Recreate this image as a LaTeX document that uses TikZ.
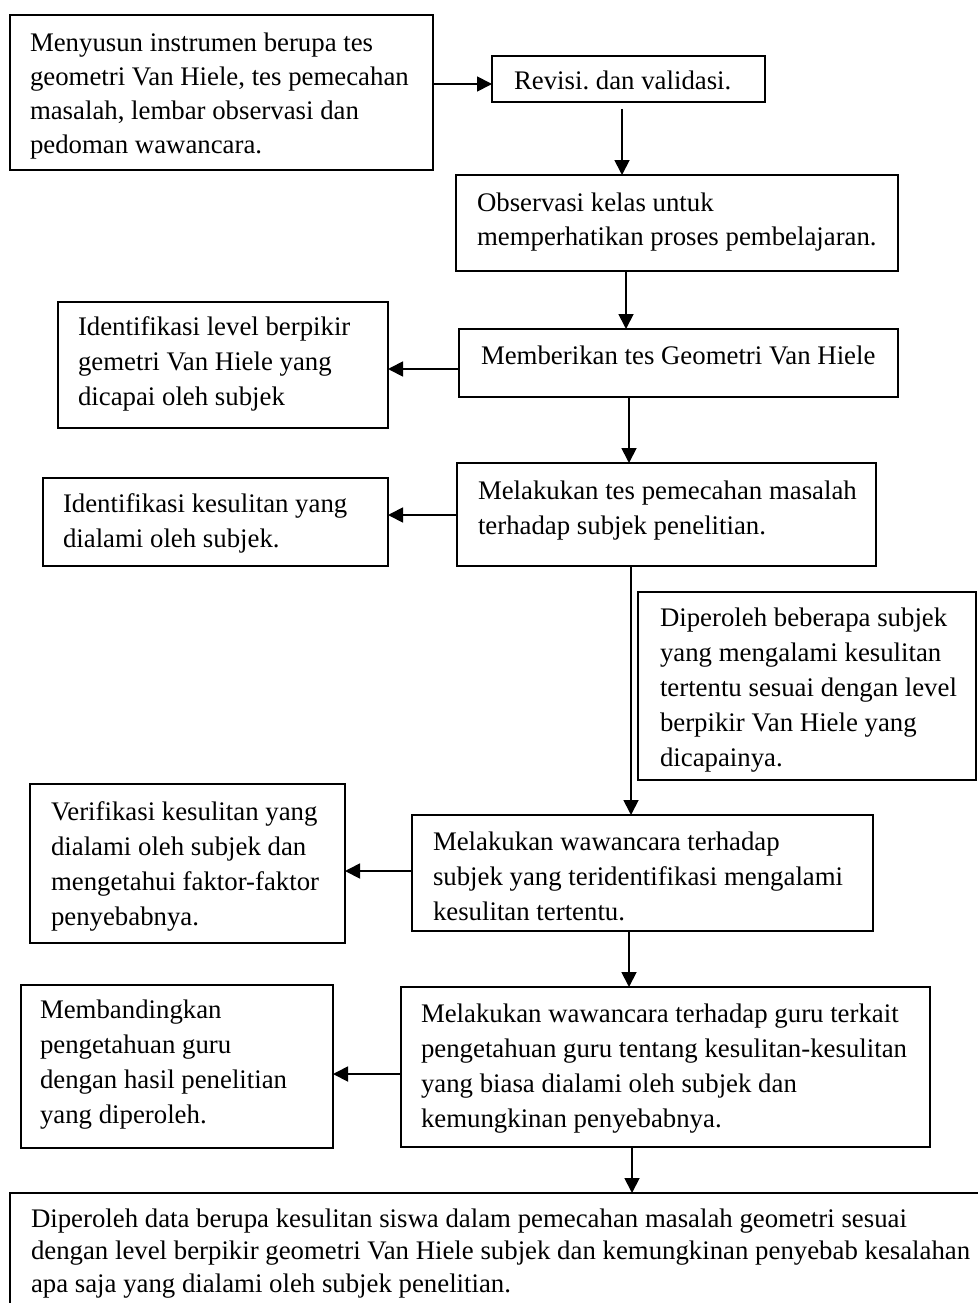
\documentclass[tikz,border=0pt]{standalone}
\usepackage{fontspec}
\setmainfont{Liberation Serif}
\usetikzlibrary{arrows.meta}
\frenchspacing
\newcommand{\boxlines}[2]{{\fontsize{26.8pt}{#1pt}\selectfont\begin{tabular}[t]{@{}l@{}}#2\end{tabular}}}
\begin{document}
\begin{tikzpicture}[x=1pt,y=-1pt,
  box/.style={draw, line width=1.8pt, anchor=north west, inner sep=0pt, outer sep=0pt},
  txt/.style={anchor=base west, inner sep=0pt, outer sep=0pt},
  arr/.style={line width=1.8pt, -{Triangle[length=15pt,width=15pt]}}]
\useasboundingbox (0,0) rectangle (977,1303);
\fill[white] (0,0) rectangle (977,1303);

% boxes
\node[box, minimum width=423pt, minimum height=155pt] (b1) at (10,15) {};
\node[box, minimum width=273pt, minimum height=46pt] (b2) at (492,56) {};
\node[box, minimum width=442pt, minimum height=96pt] (b3) at (456,175) {};
\node[box, minimum width=439pt, minimum height=68pt] (b4) at (459,329) {};
\node[box, minimum width=330pt, minimum height=126pt] (b5) at (58,302) {};
\node[box, minimum width=419pt, minimum height=103pt] (b6) at (457,463) {};
\node[box, minimum width=345pt, minimum height=88pt] (b7) at (43,478) {};
\node[box, minimum width=338pt, minimum height=188pt] (b8) at (638,592) {};
\node[box, minimum width=315pt, minimum height=159pt] (b9) at (30,784) {};
\node[box, minimum width=461pt, minimum height=116pt] (b10) at (412,815) {};
\node[box, minimum width=312pt, minimum height=163pt] (b11) at (21,985) {};
\node[box, minimum width=529pt, minimum height=160pt] (b12) at (401,987) {};
\node[box, minimum width=1000pt, minimum height=150pt] (b13) at (10,1193) {};

% texts
\node[txt] (t1) at (30,52) {\boxlines{33.7}{Menyusun instrumen berupa tes\\geometri Van Hiele, tes pemecahan\\masalah, lembar observasi dan\\pedoman wawancara.}};
\node[txt] (t2) at (514,90) {\boxlines{34}{Revisi. dan validasi.}};
\node[txt] (t3) at (477,211) {\boxlines{34}{Observasi kelas untuk\\memperhatikan proses pembelajaran.}};
\node[txt] (t4) at (481,364) {\boxlines{34}{Memberikan tes Geometri Van Hiele}};
\node[txt] (t5) at (78,335) {\boxlines{35}{Identifikasi level berpikir\\gemetri Van Hiele yang\\dicapai oleh subjek}};
\node[txt] (t6) at (478,499) {\boxlines{35}{Melakukan tes pemecahan masalah\\terhadap subjek penelitian.}};
\node[txt] (t7) at (63,512) {\boxlines{35}{Identifikasi kesulitan yang\\dialami oleh subjek.}};
\node[txt] (t8) at (660,626) {\boxlines{35}{Diperoleh beberapa subjek\\yang mengalami kesulitan\\tertentu sesuai dengan level\\berpikir Van Hiele yang\\dicapainya.}};
\node[txt] (t9) at (51,820) {\boxlines{35}{Verifikasi kesulitan yang\\dialami oleh subjek dan\\mengetahui faktor-faktor\\penyebabnya.}};
\node[txt] (t10) at (433,850) {\boxlines{35}{Melakukan wawancara terhadap\\subjek yang teridentifikasi mengalami\\kesulitan tertentu.}};
\node[txt] (t11) at (40,1018) {\boxlines{35}{Membandingkan\\pengetahuan guru\\dengan hasil penelitian\\yang diperoleh.}};
\node[txt] (t12) at (421,1022) {\boxlines{35}{Melakukan wawancara terhadap guru terkait\\pengetahuan guru tentang kesulitan-kesulitan\\yang biasa dialami oleh subjek dan\\kemungkinan penyebabnya.}};
\node[txt] (t13) at (31,1227) {\boxlines{32.5}{Diperoleh data berupa kesulitan siswa dalam pemecahan masalah geometri sesuai\\dengan level berpikir geometri Van Hiele subjek dan kemungkinan penyebab kesalahan\\apa saja yang dialami oleh subjek penelitian.}};

% connectors
\coordinate (a2s) at (622,109);
\draw[arr] (b1.east |- 0,84) -- (b2.west |- 0,84);
\draw[arr] (a2s) -- (a2s |- b3.north);
\draw[arr] (b3.south -| 626,0) -- (b4.north -| 626,0);
\draw[arr] (b4.west |- 0,369) -- (b5.east |- 0,369);
\draw[arr] (b4.south -| 629,0) -- (b6.north -| 629,0);
\draw[arr] (b6.west |- 0,515) -- (b7.east |- 0,515);
\draw[arr] (b6.south -| 631,0) -- (b10.north -| 631,0);
\draw[arr] (b10.west |- 0,871) -- (b9.east |- 0,871);
\draw[arr] (b10.south -| 629,0) -- (b12.north -| 629,0);
\draw[arr] (b12.west |- 0,1074) -- (b11.east |- 0,1074);
\draw[arr] (b12.south -| 632,0) -- (b13.north -| 632,0);
\end{tikzpicture}
\end{document}
